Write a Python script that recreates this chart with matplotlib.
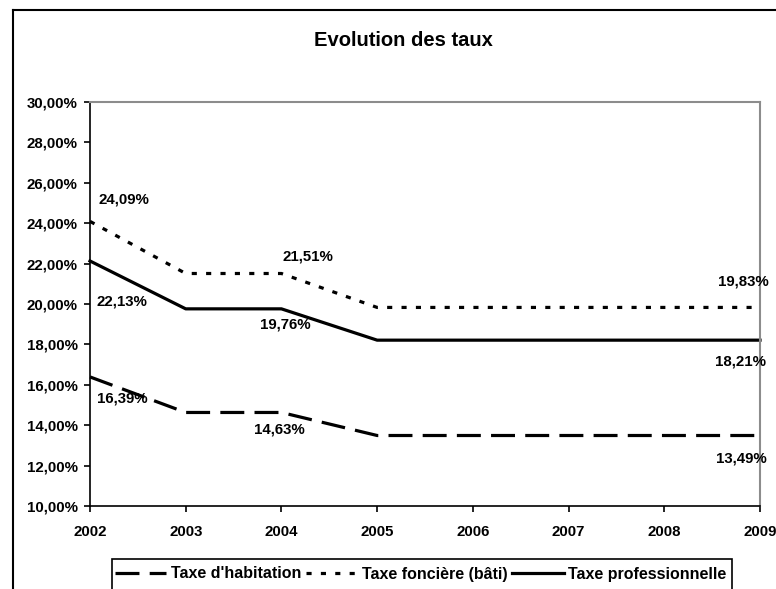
import matplotlib
matplotlib.use('Agg')
import matplotlib.pyplot as plt
from matplotlib.lines import Line2D
from matplotlib.patches import Rectangle
from matplotlib.ticker import FuncFormatter

years = [2002, 2003, 2004, 2005, 2006, 2007, 2008, 2009]
habitation = [16.39, 14.63, 14.63, 13.49, 13.49, 13.49, 13.49, 13.49]
fonciere = [24.09, 21.51, 21.51, 19.83, 19.83, 19.83, 19.83, 19.83]
professionnelle = [22.13, 19.76, 19.76, 18.21, 18.21, 18.21, 18.21, 18.21]
labels = ["Taxe d'habitation", "Taxe foncière (bâti)", "Taxe professionnelle"]
labelled = [0, 2, 7]  # points that carry a value label

plt.rcParams['font.family'] = ['Liberation Sans', 'DejaVu Sans']
plt.rcParams['font.weight'] = 'bold'
plt.rcParams['font.size'] = 10.8

W, H = 776, 589
fig = plt.figure(figsize=(W / 100, H / 100), dpi=100)
ax = fig.add_axes([90 / W, 1 - 506 / H, 670 / W, 404 / H])

# outer chart frame: only left and top edges are inside the picture
fig.add_artist(Line2D([13 / W, 13 / W], [-0.1, 1 - 10 / H], transform=fig.transFigure,
                      color='black', lw=1.5))
fig.add_artist(Line2D([13 / W, 1.1], [1 - 10 / H, 1 - 10 / H], transform=fig.transFigure,
                      color='black', lw=1.5))

lh, = ax.plot(years, habitation, color='black', lw=2.3, dashes=(7.5, 3.2))
lf, = ax.plot(years, fonciere, color='black', lw=2.3, dashes=(1.6, 2.9))
lp, = ax.plot(years, professionnelle, color='black', lw=2.3)
for ln in (lh, lf, lp):
    ln.set_dash_capstyle('butt')
    ln.set_clip_on(False)

# value labels: offsets in pixels for each labelled point
offsets = {
    'h': [(32, 22), (-2, 17), (-19, 23)],
    'f': [(34, -22), (27, -17), (-17, -26)],
    'p': [(32, 41), (4, 16), (-19, 21)],
}
for key, series in (('h', habitation), ('f', fonciere), ('p', professionnelle)):
    for (dx, dy), i in zip(offsets[key], labelled):
        ax.annotate(f"{series[i]:.2f}%".replace('.', ','), (years[i], series[i]),
                    xytext=(dx, -dy), textcoords='offset pixels',
                    ha='center', va='center', fontweight='bold', fontsize=10.8)

ax.set_xlim(2002, 2009)
ax.set_ylim(10, 30)
ax.set_xticks(years)
ax.set_yticks(range(10, 31, 2))
ax.yaxis.set_major_formatter(FuncFormatter(lambda v, p: f"{v:.2f}%".replace('.', ',')))
ax.tick_params(axis='both', direction='out', length=4, width=1.2, color='black')
ax.tick_params(axis='x', pad=10)
ax.tick_params(axis='y', pad=5)
for s in ('left', 'bottom'):
    ax.spines[s].set_color('black')
    ax.spines[s].set_linewidth(1.2)
for s in ('top', 'right'):
    ax.spines[s].set_color('#8c8c8c')
    ax.spines[s].set_linewidth(1.5)

fig.text(403 / W, 1 - 41 / H, "Evolution des taux", ha='center', va='center',
         fontsize=14.5, fontweight='bold')

# legend box runs past the bottom edge of the picture
fig.add_artist(Rectangle((112 / W, -0.1), 620 / W, 0.1 + 1 - 559 / H,
                         transform=fig.transFigure, fill=False,
                         edgecolor='black', lw=1.2))
leg = fig.legend([lh, lf, lp], labels, loc='center left',
                 bbox_to_anchor=(115 / W, 1 - 574 / H), ncol=3,
                 frameon=False, borderaxespad=0, borderpad=0,
                 handlelength=3.2, handletextpad=0.3, columnspacing=0.3,
                 fontsize=11.5)

fig.savefig('out.png', dpi=100)
